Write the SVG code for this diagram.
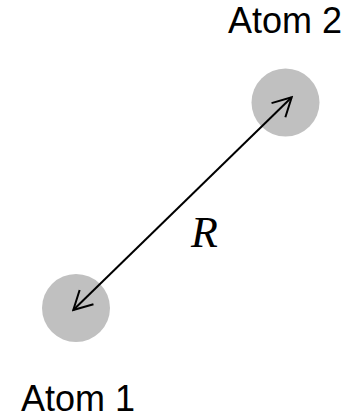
<svg xmlns="http://www.w3.org/2000/svg" width="349" height="419" viewBox="0 0 349 419">
<style>
.atom{fill:#c0c0c0;}
.lbl{font-family:"Liberation Sans",Arial,sans-serif;font-size:36px;fill:#000;}
.math{font-family:"Liberation Serif","Times New Roman",serif;font-style:italic;font-size:44px;fill:#000;}
.conn{stroke:#000;stroke-width:2;fill:none;}
</style>
<defs>
<marker id="head" viewBox="-22 -12 24 24" refX="0" refY="0" markerWidth="24" markerHeight="24" markerUnits="userSpaceOnUse" orient="auto-start-reverse">
<path d="M-18.5,-9.9 L0,0 L-18.5,9.9" fill="none" stroke="#000" stroke-width="2"/>
</marker>
</defs>
<rect width="349" height="419" fill="#fff"/>
<g id="atom1">
<circle class="atom" cx="76" cy="308" r="34"/>
<text class="lbl" x="21" y="411">Atom 1</text>
</g>
<g id="atom2">
<circle class="atom" cx="285.5" cy="102.5" r="34"/>
<text class="lbl" x="228" y="33">Atom 2</text>
</g>
<g id="connectors">
<line class="conn" x1="73.3" y1="310" x2="291.7" y2="97.3" marker-start="url(#head)" marker-end="url(#head)"/>
<text class="math" x="191" y="247">R</text>
</g>
</svg>
